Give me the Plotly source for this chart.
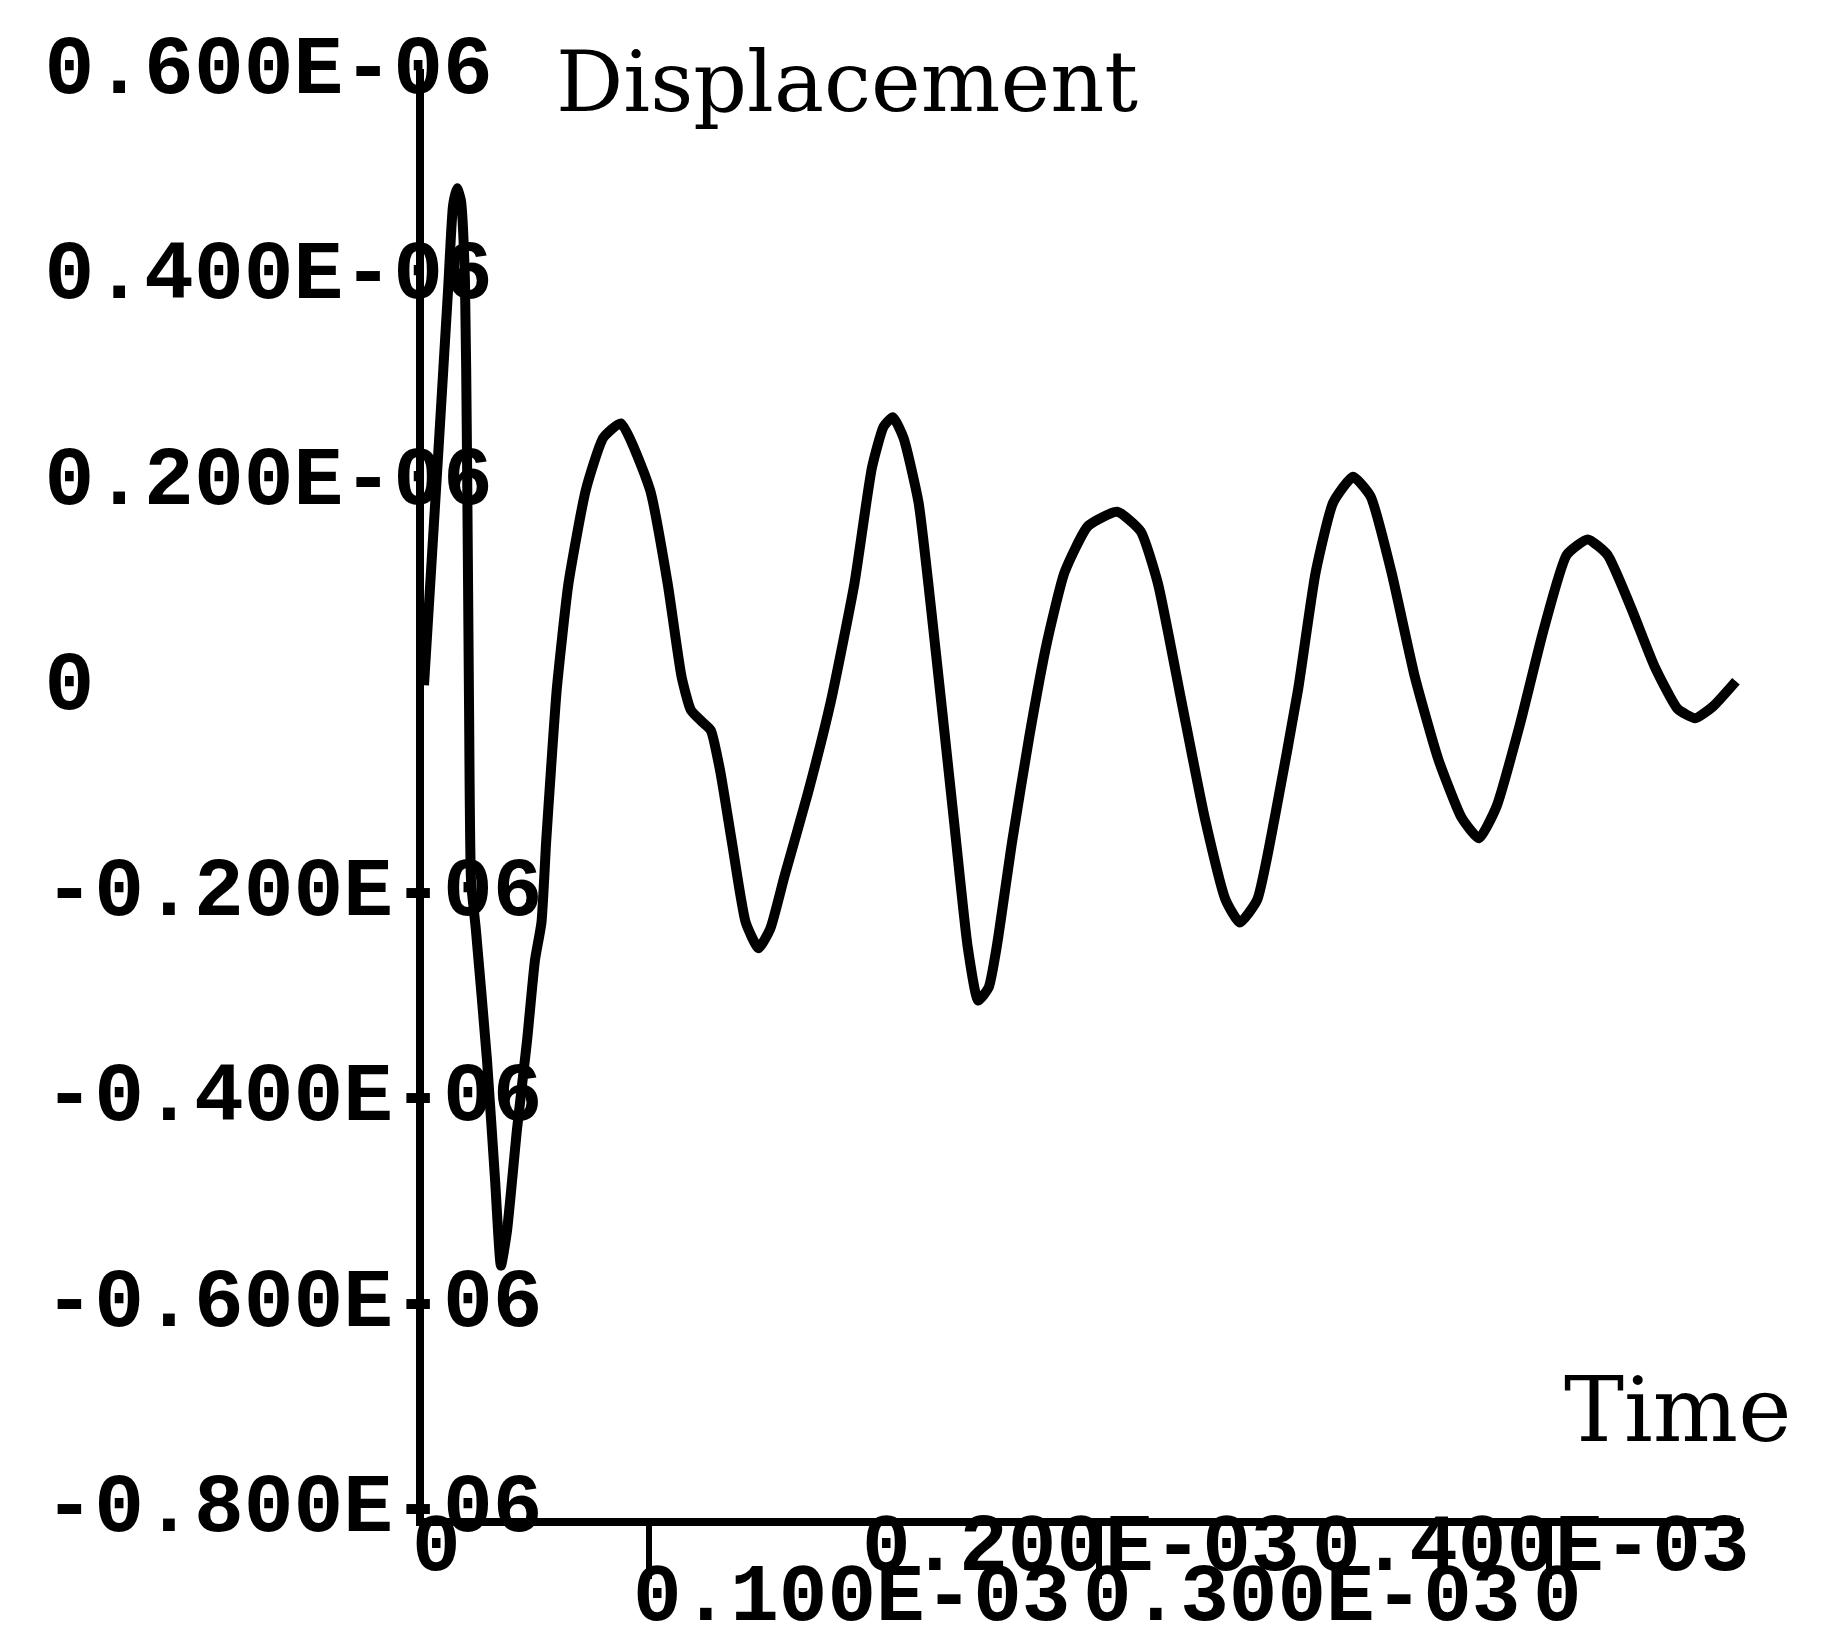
import plotly.graph_objects as go

# Time in units of 1E-03, displacement in units of 1E-06
time_e3 = [0.0, 0.0067, 0.0107, 0.0129, 0.0147, 0.0164, 0.0182, 0.0191, 0.0200, 0.0209,
           0.0231, 0.0280, 0.0316, 0.0342, 0.0369, 0.0413, 0.0458, 0.0493, 0.0522, 0.0543,
           0.0564, 0.0590, 0.0642, 0.0719, 0.0797, 0.0875,
           0.1005, 0.1083, 0.1145, 0.1186, 0.1238, 0.1275, 0.1316, 0.1368, 0.1430, 0.1487,
           0.1539, 0.1602, 0.1705, 0.1809, 0.1913, 0.1991, 0.2043, 0.2084, 0.2131, 0.2198,
           0.2276, 0.2354, 0.2416, 0.2463, 0.2510, 0.2546, 0.2614, 0.2691, 0.2769, 0.2847,
           0.2951, 0.3081, 0.3185, 0.3262, 0.3366, 0.3470, 0.3563, 0.3626, 0.3703, 0.3781,
           0.3885, 0.3963, 0.4041, 0.4129, 0.4207, 0.4300, 0.4404, 0.4508, 0.4612, 0.4689,
           0.4767, 0.4871, 0.4975, 0.5079, 0.5172, 0.5260, 0.5364, 0.5468, 0.5572, 0.5650,
           0.5727, 0.5831]
disp_e6 = [0.0, 0.239, 0.385, 0.467, 0.484, 0.472, 0.394, 0.229, -0.015, -0.190,
           -0.239, -0.365, -0.482, -0.565, -0.531, -0.433, -0.346, -0.268, -0.231, -0.152,
           -0.083, -0.004, 0.099, 0.190, 0.241, 0.255,
           0.190, 0.099, 0.008, -0.024, -0.036, -0.044, -0.083, -0.152, -0.231, -0.256,
           -0.237, -0.186, -0.106, -0.015, 0.099, 0.212, 0.252, 0.261, 0.241, 0.178,
           0.030, -0.129, -0.254, -0.307, -0.294, -0.254, -0.152, -0.049, 0.042, 0.110,
           0.155, 0.169, 0.150, 0.099, -0.015, -0.129, -0.209, -0.231, -0.209, -0.129,
           -0.004, 0.110, 0.178, 0.203, 0.184, 0.110, 0.008, -0.072, -0.129, -0.149,
           -0.118, -0.038, 0.053, 0.127, 0.142, 0.127, 0.076, 0.019, -0.023, -0.032,
           -0.021, 0.004]

y_tick_vals = [0.6, 0.4, 0.2, 0.0, -0.2, -0.4, -0.6, -0.8]
y_tick_text = ["0.600E-06", "0.400E-06", "0.200E-06", "0",
               "-0.200E-06", "-0.400E-06", "-0.600E-06", "-0.800E-06"]
x_upper_vals = [0.0, 0.2, 0.4]
x_upper_text = ["0", "0.200E-03", "0.400E-03"]
x_lower_vals = [0.1, 0.3, 0.5]
x_lower_text = ["0.100E-03", "0.300E-03", "0"]

# page body adds an 8px margin, so the figure is 16px smaller than the window
W, H = 1815, 1622
ML, MR, MT, MB = 0, 83, 61, 112
paper_w = W - ML - MR
paper_h = H - MT - MB
axis_px = 416
dom0 = axis_px / paper_w

X_RANGE = [0, 0.5849]
Y_RANGE = [-0.8107, 0.6]

mono = dict(family="Liberation Mono", size=83, color="black", weight="bold")
mono_x = dict(family="Liberation Mono", size=81, color="black", weight="bold")
serif = "DejaVu Serif"
plot_bottom = H - MB

fig = go.Figure()
fig.add_trace(go.Scatter(x=time_e3, y=disp_e6, mode="lines",
                         line=dict(color="black", width=10, shape="spline", smoothing=0.5),
                         xaxis="x", yaxis="y", showlegend=False, hoverinfo="skip"))
for xa in ("x2", "x3", "x4"):
    fig.add_trace(go.Scatter(x=[], y=[], xaxis=xa, yaxis="y", showlegend=False))
fig.add_trace(go.Scatter(x=[], y=[], xaxis="x", yaxis="y2", showlegend=False))

fig.update_layout(
    width=W, height=H,
    margin=dict(l=ML, r=MR, t=MT, b=MB, autoexpand=False),
    paper_bgcolor="white", plot_bgcolor="white",
    xaxis=dict(domain=[dom0, 1], range=X_RANGE, showline=True, linecolor="black",
               linewidth=8, showticklabels=False, ticks="", showgrid=False,
               zeroline=False, anchor="y"),
    # upper row of tick labels, just under the axis line
    xaxis2=dict(overlaying="x", anchor="y", side="bottom", range=X_RANGE,
                tickmode="array", tickvals=x_upper_vals, ticktext=x_upper_text,
                ticks="", ticklabelposition="outside right", tickangle=0,
                ticklabelstandoff=-30, ticklabelshift=-12, tickfont=mono_x,
                showline=False, showgrid=False, zeroline=False),
    # lower row of tick labels
    xaxis3=dict(overlaying="x", anchor="y", side="bottom", range=X_RANGE,
                tickmode="array", tickvals=x_lower_vals, ticktext=x_lower_text,
                ticks="", ticklabelposition="outside right", tickangle=0,
                ticklabelstandoff=20, ticklabelshift=-16, tickfont=mono_x,
                showline=False, showgrid=False, zeroline=False),
    # long tick marks for the lower row
    xaxis4=dict(overlaying="x", anchor="y", side="bottom", range=X_RANGE,
                tickmode="array", tickvals=x_lower_vals, showticklabels=False,
                ticks="outside", ticklen=60, tickwidth=6, tickcolor="black",
                showline=False, showgrid=False, zeroline=False),
    yaxis=dict(domain=[0, 1], range=Y_RANGE, showline=True, linecolor="black",
               linewidth=8, showticklabels=False, ticks="", showgrid=False,
               zeroline=False, anchor="x"),
    yaxis2=dict(overlaying="y", anchor="free", position=35.5 / paper_w, side="right",
                range=Y_RANGE, tickmode="array", tickvals=y_tick_vals,
                ticktext=y_tick_text, ticks="", tickfont=mono, ticklabelshift=-5,
                showline=False, showgrid=False, zeroline=False),
    annotations=[
        dict(text="Displacement", xref="paper", yref="paper",
             x=546 / paper_w, y=(plot_bottom - 74) / paper_h, xanchor="left", yanchor="middle",
             showarrow=False, font=dict(family=serif, size=84, color="black")),
        dict(text="Time", xref="paper", yref="paper",
             x=1554 / paper_w, y=(plot_bottom - 1401) / paper_h, xanchor="left", yanchor="middle",
             showarrow=False, font=dict(family=serif, size=90, color="black")),
    ],
)

fig.write_html("out.html")
